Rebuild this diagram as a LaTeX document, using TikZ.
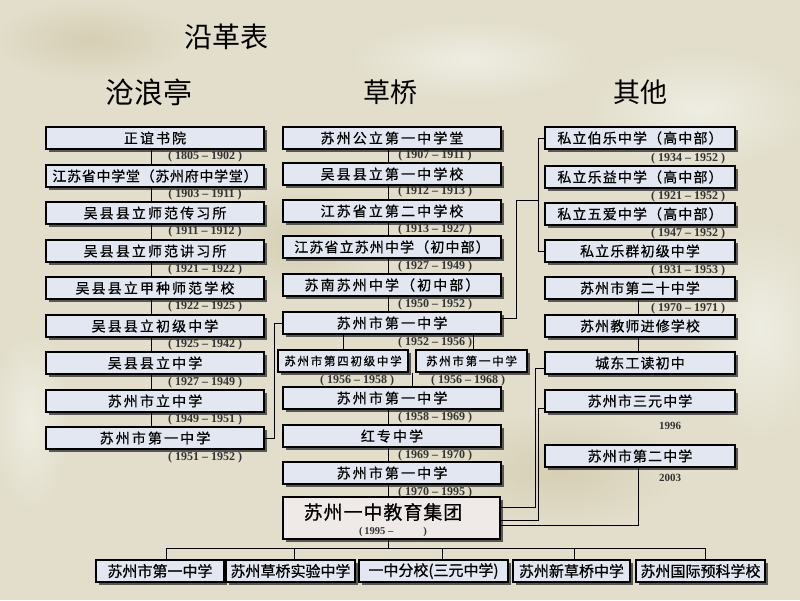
\documentclass[tikz,border=0pt]{standalone}
\usepackage{fontspec}
\setmainfont{Liberation Serif}
\newfontfamily\cjk{Noto Sans CJK SC}
\newfontfamily\cjkH{Noto Sans CJK SC}
\newfontfamily\cjkA[LetterSpace=15,FakeBold=0.6]{Noto Sans CJK SC}
\newfontfamily\cjkB[LetterSpace=8,FakeBold=0.6]{Noto Sans CJK SC}
\newfontfamily\cjkC[LetterSpace=5,FakeBold=0.6]{Noto Sans CJK SC}
\newfontfamily\cjkD[FakeBold=0.8]{Noto Sans CJK SC}
\usetikzlibrary{shadows,calc}

\definecolor{bg}{RGB}{226,222,203}
\definecolor{bglight}{RGB}{238,237,226}
\definecolor{bgdark}{RGB}{214,206,180}
\definecolor{boxfill}{RGB}{227,231,241}
\definecolor{grpfill}{RGB}{239,233,231}

\tikzset{
  box/.style={draw=black, line width=1.1pt, fill=boxfill, minimum height=22pt, inner sep=0pt,
    drop shadow={shadow xshift=2.5pt, shadow yshift=-2.5pt, fill=black!75, opacity=0.85}},
  lbox/.style={box, minimum width=218pt, font=\cjkA\fontsize{14}{14}\selectfont},
  rbox/.style={box, minimum width=190pt, font=\cjkB\fontsize{14}{14}\selectfont},
  sbox/.style={box, font=\cjkA\fontsize{11.5}{11.5}\selectfont},
  bbox/.style={box, font=\cjkD\fontsize{15}{15}\selectfont},
  date/.style={font=\bfseries\fontsize{12}{12}\selectfont, text=black!80, inner sep=0pt},
  conn/.style={draw=black, line width=1pt},
  head/.style={font=\cjkH\fontsize{28}{28}\selectfont, inner sep=0pt},
  blob/.style={inner color=#1, outer color=bg},
}

\begin{document}
\begin{tikzpicture}[x=1pt, y=-1pt]
\fill[bg] (0,0) rectangle (800,600);
\useasboundingbox (0,0) rectangle (800,600);
% soft parchment texture
\shade[blob=bglight] (700,110) ellipse (110 and 60);
\shade[blob=bglight] (760,330) ellipse (70 and 110);
\shade[blob=bglight] (470,60) ellipse (120 and 40);
\shade[blob=bglight] (30,420) ellipse (40 and 90);
\shade[blob=bgdark] (90,40) ellipse (100 and 40);
\shade[blob=bgdark] (560,470) ellipse (120 and 60);
\shade[blob=bgdark] (300,240) ellipse (80 and 60);

% headings
\node[head] (title) at (226,37) {沿革表};
\node[head, font=\cjkH\fontsize{29}{29}\selectfont] (hL) at (149,92) {沧浪亭};
\node[head, font=\cjkH\fontsize{27}{27}\selectfont] (hM) at (390,92) {草桥};
\node[head, font=\cjkH\fontsize{27}{27}\selectfont] (hR) at (640,92) {其他};

% left column
\node[lbox] (L1) at (155,138) {正谊书院};
\node[lbox, font=\cjkC\fontsize{14}{14}\selectfont] (L2) at (155,176) {江苏省中学堂（苏州府中学堂）};
\node[lbox] (L3) at (155,213) {吴县县立师范传习所};
\node[lbox] (L4) at (155,251) {吴县县立师范讲习所};
\node[lbox] (L5) at (155,288) {吴县县立甲种师范学校};
\node[lbox] (L6) at (155,326) {吴县县立初级中学};
\node[lbox] (L7) at (155,363) {吴县县立中学};
\node[lbox] (L8) at (155,401) {苏州市立中学};
\node[lbox] (L9) at (155,438) {苏州市第一中学};

\node[date] (dL1) at (205,157) {( 1805 – 1902 )};
\node[date] (dL2) at (205,195) {( 1903 – 1911 )};
\node[date] (dL3) at (205,232) {( 1911 – 1912 )};
\node[date] (dL4) at (205,270) {( 1921 – 1922 )};
\node[date] (dL5) at (205,307) {( 1922 – 1925 )};
\node[date] (dL6) at (205,345) {( 1925 – 1942 )};
\node[date] (dL7) at (205,383) {( 1927 – 1949 )};
\node[date] (dL8) at (205,420) {( 1949 – 1951 )};
\node[date] (dL9) at (205,458) {( 1951 – 1952 )};

% middle column
\node[lbox] (M1) at (392,138) {苏州公立第一中学堂};
\node[lbox] (M2) at (392,174) {吴县县立第一中学校};
\node[lbox] (M3) at (392,211) {江苏省立第二中学校};
\node[lbox, font=\cjkB\fontsize{14}{14}\selectfont] (M4) at (392,247) {江苏省立苏州中学（初中部）};
\node[lbox] (M5) at (392,285) {苏南苏州中学（初中部）};
\node[lbox] (M6) at (392,323) {苏州市第一中学};
\node[sbox, minimum width=130pt] (S1) at (343,361) {苏州市第四初级中学};
\node[sbox, minimum width=111pt] (S2) at (471.5,361) {苏州市第一中学};
\node[lbox] (M7) at (392,398) {苏州市第一中学};
\node[lbox] (M8) at (392,436) {红专中学};
\node[lbox] (M9) at (392,473) {苏州市第一中学};
\node[box, fill=grpfill, minimum width=217pt, minimum height=42pt] (G) at (391.5,518) {};
\node[font=\cjkC\fontsize{19}{19}\selectfont, inner sep=0pt] (Gt) at (383,512) {苏州一中教育集团};
\node[date, font=\bfseries\fontsize{10.5}{10.5}\selectfont] (Gd) at (393,532) {(\,1995 –\hspace{30pt})};

\node[date] (dM1) at (435,156) {( 1907 – 1911 )};
\node[date] (dM2) at (435,192) {( 1912 – 1913 )};
\node[date] (dM3) at (435,230) {( 1913 – 1927 )};
\node[date] (dM4) at (435,267) {( 1927 – 1949 )};
\node[date] (dM5) at (435,305) {( 1950 – 1952 )};
\node[date] (dM6) at (435,343) {( 1952 – 1956 )};
\node[date] (dS1) at (357,381) {( 1956 – 1958 )};
\node[date] (dS2) at (468,381) {( 1956 – 1968 )};
\node[date] (dM7) at (435,418) {( 1958 – 1969 )};
\node[date] (dM8) at (435,456) {( 1969 – 1970 )};
\node[date] (dM9) at (435,493) {( 1970 – 1995 )};

% right column
\node[rbox] (R1) at (640,138) {私立伯乐中学（高中部）};
\node[rbox] (R2) at (640,177) {私立乐益中学（高中部）};
\node[rbox] (R3) at (640,214) {私立五爱中学（高中部）};
\node[rbox] (R4) at (640,251) {私立乐群初级中学};
\node[rbox] (R5) at (640,288) {苏州市第二十中学};
\node[rbox] (R6) at (640,326) {苏州教师进修学校};
\node[rbox] (R7) at (640,363) {城东工读初中};
\node[rbox] (R8) at (640,401) {苏州市三元中学};
\node[rbox] (R9) at (640,456) {苏州市第二中学};

\node[date] (dR1) at (688,159) {( 1934 – 1952 )};
\node[date] (dR2) at (688,197) {( 1921 – 1952 )};
\node[date] (dR3) at (688,234) {( 1947 – 1952 )};
\node[date] (dR4) at (688,271) {( 1931 – 1953 )};
\node[date] (dR5) at (688,309) {( 1970 – 1971 )};
\node[date, font=\bfseries\fontsize{11}{11}\selectfont] (dR8) at (670,426) {1996};
\node[date, font=\bfseries\fontsize{11}{11}\selectfont] (dR9) at (670,478) {2003};

% bottom row
\node[bbox, minimum width=128pt] (B1) at (160,571) {苏州市第一中学};
\node[bbox, minimum width=129pt] (B2) at (290.5,571) {苏州草桥实验中学};
\node[bbox, minimum width=149pt] (B3) at (433.5,571) {一中分校(三元中学)};
\node[bbox, minimum width=117pt] (B4) at (571.5,571) {苏州新草桥中学};
\node[bbox, minimum width=129pt] (B5) at (700.5,571) {苏州国际预科学校};

% connector coordinates
\coordinate (lx) at (151,0);
\coordinate (mx) at (388,0);
\coordinate (s2x) at (473,0);
\coordinate (sx) at (412,0);
\coordinate (rx) at (638,0);
\coordinate (bx) at (538,0);
\coordinate (ax) at (535,0);
\coordinate (jx) at (516,0);
\coordinate (jy) at (0,200);
\coordinate (kx) at (274,0);
\coordinate (ay1) at (0,507);
\coordinate (ay2) at (0,520);
\coordinate (ay3) at (0,525);
\coordinate (hy) at (0,548);
\coordinate (d1) at (166,0);
\coordinate (d2) at (294,0);
\coordinate (d3) at (442,0);
\coordinate (d4) at (574,0);
\coordinate (d5) at (705,0);
\coordinate (r7c) at ($(R7.west)+(0,5)$);
\coordinate (r8c) at ($(R8.west)+(0,7)$);
\coordinate (m6c) at ($(M6.east)+(0,-5)$);

% left chain
\foreach \a/\b in {L1/L2,L2/L3,L3/L4,L4/L5,L5/L6,L6/L7,L7/L8,L8/L9}
  \draw[conn] (\a.south -| lx) -- (\b.north -| lx);
% middle chain
\foreach \a/\b in {M1/M2,M2/M3,M3/M4,M4/M5,M5/M6,M7/M8,M8/M9,M9/G}
  \draw[conn] (\a.south -| mx) -- (\b.north -| mx);
\draw[conn] (M6.south -| S1) -- (S1.north);
\draw[conn] (M6.south -| s2x) -- (S2.north -| s2x);
\draw[conn] (S1.south -| sx) -- (M7.north -| sx);
% right chain
\draw[conn] (R5.south -| rx) -- (R6.north -| rx);
\draw[conn] (R6.south -| rx) -- (R7.north -| rx);
\draw[conn] (R1.west) -- (R1.west -| bx) -- (R4.west -| bx) -- (R4.west);
\draw[conn] (m6c) -- (m6c -| jx) -- (jx |- jy) -- (bx |- jy);
% left to middle
\draw[conn] (L9.east) -- (L9.east -| kx) -- (kx |- M6.west) -- (M6.west);
% right to group
\draw[conn] (r7c) -- (r7c -| ax) -- (ax |- ay1) -- (G.east |- ay1);
\draw[conn] (r8c) -- (r8c -| bx) -- (bx |- ay2) -- (G.east |- ay2);
\draw[conn] (R9.south -| rx) -- (rx |- ay3) -- (G.east |- ay3);
% group to bottom
\draw[conn] (G.south -| mx) -- (mx |- hy);
\draw[conn] (hy -| d1) -- (hy -| d5);
\draw[conn] (hy -| d1) -- (B1.north -| d1);
\draw[conn] (hy -| d2) -- (B2.north -| d2);
\draw[conn] (hy -| d3) -- (B3.north -| d3);
\draw[conn] (hy -| d4) -- (B4.north -| d4);
\draw[conn] (hy -| d5) -- (B5.north -| d5);
\end{tikzpicture}
\end{document}
